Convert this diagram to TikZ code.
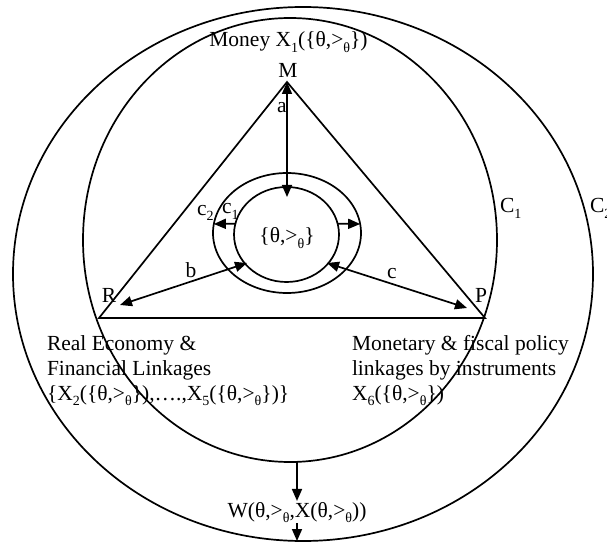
\documentclass[tikz,border=0pt]{standalone}
\usepackage{fontspec}
\setmainfont{Liberation Serif}
\usetikzlibrary{arrows.meta,shapes.geometric}
\newcommand\mysub[1]{\raisebox{-0.24em}{\fontsize{14}{14}\selectfont #1}}
\begin{document}
\begin{tikzpicture}[x=1pt,y=-1pt,
  line width=1.7pt,
  every node/.style={font=\fontsize{21.5}{25}\selectfont, inner sep=0pt, outer sep=0pt},
  ring/.style={draw, ellipse, inner sep=0pt, outer sep=0pt},
  arr/.style={-{Triangle[length=12pt,width=10pt]}},
  darr/.style={{Triangle[length=12pt,width=10pt]}-{Triangle[length=12pt,width=10pt]}},
  lbl/.style={anchor=base}]
\useasboundingbox (0,0) rectangle (607,545);
% big circles
\node[ring, minimum width=580pt, minimum height=534pt] (C2) at (303,274) {};
\node[ring, minimum width=414pt, minimum height=444pt] (C1) at (290,240) {};
% small ellipses
\node[ring, minimum width=148pt, minimum height=120pt] (eo) at (287,233) {};
\node[ring, minimum width=105pt, minimum height=95pt] (ei) at (286.5,234.5) {};
% triangle
\coordinate (M) at (287,82);
\coordinate (R) at (99,318);
\coordinate (P) at (485,318);
\draw (M) -- (R) -- (P) -- cycle;
% arrows
\coordinate (aend) at (287,197);
\draw[darr] (M) -- (aend);
\draw[arr] (ei.168) -- (eo.173);
\draw[arr] (ei.12) -- (eo.7);
\coordinate (bR) at (120,305);
\coordinate (bE) at (247,263);
\draw[darr] (bE) -- (bR);
\coordinate (cP) at (467,308);
\coordinate (cE) at (327,263);
\draw[darr] (cE) -- (cP);
% labels
\node[lbl] (Mmoney) at (288.5,47) {Money X\mysub{1}(\{θ,>\mysub{θ}\})};
\node[lbl] (Ml) at (288,78) {M};
\node[lbl] (Rl) at (109,302) {R};
\node[lbl] (Pl) at (481,302) {P};
\node[lbl] (al) at (282,113) {a};
\node[lbl] (bl) at (191,277) {b};
\node[lbl] (cl) at (392,278) {c};
\node[anchor=base west] (c2l) at (197,215) {c\mysub{2}};
\node[anchor=base west] (c1l) at (222,214) {c\mysub{1}};
\node[anchor=base west] (C1l) at (500,213) {C\mysub{1}};
\node[anchor=base west] (C2l) at (590,213) {C\mysub{2}};
\node[lbl] (theta) at (287,243) {\{θ,>\mysub{θ}\}};
\node[anchor=base west, align=left] (left) at (47,400) {Real Economy \&\\Financial Linkages\\\{X\mysub{2}(\{θ,>\mysub{θ}\}),….,X\mysub{5}(\{θ,>\mysub{θ}\})\}};
\node[anchor=base west, align=left] (right) at (352,400) {Monetary \& fiscal policy\\linkages by instruments\\X\mysub{6}(\{θ,>\mysub{θ}\})};
\node[lbl, inner sep=1pt] (W) at (297,517) {W(θ,>\mysub{θ},X(θ,>\mysub{θ}))};
% bottom arrows
\coordinate (w1) at (297,461);
\coordinate (w2) at (297,541);
\draw[arr] (w1) -- (W.north);
\draw[arr] (W.south) -- (w2);
\end{tikzpicture}
\end{document}
